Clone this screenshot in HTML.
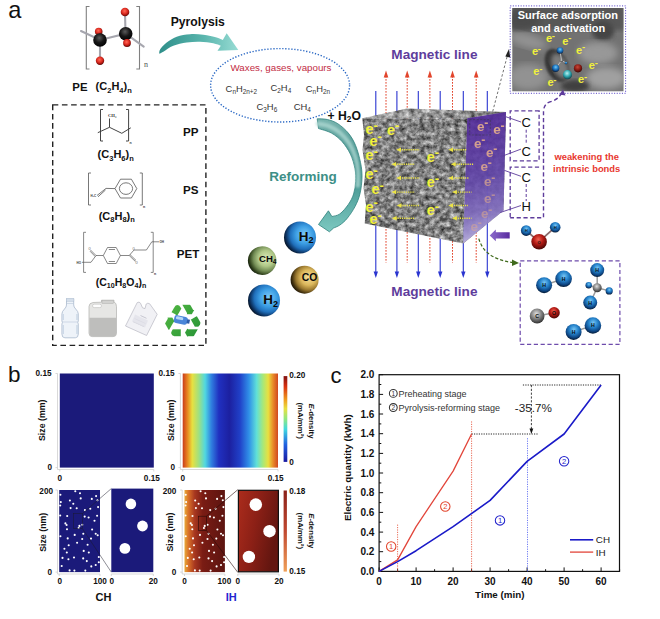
<!DOCTYPE html>
<html><head><meta charset="utf-8"><title>Figure</title>
<style>html,body{margin:0;padding:0;background:#fff}svg{display:block}text{font-family:"Liberation Sans",sans-serif}</style>
</head><body>
<svg width="660" height="619" viewBox="0 0 660 619">
<defs>
<radialGradient id="gBlue" cx="52%" cy="34%" r="68%"><stop offset="0" stop-color="#78c6f4"/><stop offset="0.4" stop-color="#2684cc"/><stop offset="0.75" stop-color="#0e4684"/><stop offset="1" stop-color="#041428"/></radialGradient>
<radialGradient id="gBlueBig" cx="64%" cy="42%" r="72%"><stop offset="0" stop-color="#80ccf8"/><stop offset="0.38" stop-color="#3c9ee4"/><stop offset="0.62" stop-color="#2070bc"/><stop offset="0.8" stop-color="#0c3260"/><stop offset="0.93" stop-color="#040e1c"/><stop offset="1" stop-color="#02060c"/></radialGradient><radialGradient id="gGreen" cx="64%" cy="42%" r="72%"><stop offset="0" stop-color="#dcecb8"/><stop offset="0.38" stop-color="#b0c888"/><stop offset="0.62" stop-color="#748e56"/><stop offset="0.8" stop-color="#34461f"/><stop offset="0.93" stop-color="#10180a"/><stop offset="1" stop-color="#080c04"/></radialGradient>
<radialGradient id="gGold" cx="64%" cy="42%" r="72%"><stop offset="0" stop-color="#f4e09c"/><stop offset="0.38" stop-color="#dcb85c"/><stop offset="0.62" stop-color="#9c7a30"/><stop offset="0.8" stop-color="#463410"/><stop offset="0.93" stop-color="#160e02"/><stop offset="1" stop-color="#0a0600"/></radialGradient>
<radialGradient id="gRed" cx="45%" cy="35%" r="70%"><stop offset="0" stop-color="#f06050"/><stop offset="0.45" stop-color="#b41a14"/><stop offset="1" stop-color="#3a0403"/></radialGradient>
<radialGradient id="gGray" cx="45%" cy="35%" r="70%"><stop offset="0" stop-color="#e0e0e0"/><stop offset="0.5" stop-color="#808080"/><stop offset="1" stop-color="#262626"/></radialGradient>
<radialGradient id="gBlk" cx="45%" cy="35%" r="70%"><stop offset="0" stop-color="#5a5a5a"/><stop offset="0.5" stop-color="#161616"/><stop offset="1" stop-color="#000"/></radialGradient>
<radialGradient id="gRed2" cx="45%" cy="35%" r="70%"><stop offset="0" stop-color="#c84838"/><stop offset="0.5" stop-color="#8c1c14"/><stop offset="1" stop-color="#300403"/></radialGradient><radialGradient id="gRedB" cx="45%" cy="38%" r="68%"><stop offset="0" stop-color="#ff6a58"/><stop offset="0.5" stop-color="#dc2a20"/><stop offset="0.85" stop-color="#7a0c08"/><stop offset="1" stop-color="#1a0202"/></radialGradient><radialGradient id="gCyan" cx="45%" cy="35%" r="70%"><stop offset="0" stop-color="#b8f0f0"/><stop offset="0.5" stop-color="#30a8b0"/><stop offset="1" stop-color="#083038"/></radialGradient>
<linearGradient id="teal1" x1="0" y1="0" x2="1" y2="0"><stop offset="0" stop-color="#2f8f8a"/><stop offset="0.55" stop-color="#58b4ac"/><stop offset="1" stop-color="#98dcd4"/></linearGradient>
<linearGradient id="teal2" x1="0" y1="0" x2="0" y2="1"><stop offset="0" stop-color="#78b4ae"/><stop offset="0.45" stop-color="#3c8c88"/><stop offset="1" stop-color="#7cc8c0"/></linearGradient>
<linearGradient id="rainbow" x1="0" y1="0" x2="1" y2="0">
<stop offset="0" stop-color="#c83c1c"/><stop offset="0.046" stop-color="#e88020"/><stop offset="0.10" stop-color="#e8e040"/><stop offset="0.168" stop-color="#a0e080"/><stop offset="0.235" stop-color="#50d8e0"/><stop offset="0.30" stop-color="#3080e0"/><stop offset="0.38" stop-color="#2030c0"/><stop offset="0.49" stop-color="#1c20a0"/><stop offset="0.60" stop-color="#2040c8"/><stop offset="0.695" stop-color="#3090e8"/><stop offset="0.776" stop-color="#60e0d8"/><stop offset="0.843" stop-color="#a8e878"/><stop offset="0.897" stop-color="#e8e040"/><stop offset="0.95" stop-color="#e88828"/><stop offset="1" stop-color="#d04820"/>
</linearGradient>
<linearGradient id="jet" x1="0" y1="0" x2="0" y2="1">
<stop offset="0" stop-color="#801010"/><stop offset="0.12" stop-color="#d83010"/><stop offset="0.28" stop-color="#f0a020"/><stop offset="0.38" stop-color="#e8e040"/><stop offset="0.5" stop-color="#90e880"/><stop offset="0.62" stop-color="#40d8e0"/><stop offset="0.8" stop-color="#2060e0"/><stop offset="1" stop-color="#1818a0"/>
</linearGradient>
<linearGradient id="redbar" x1="0" y1="0" x2="0" y2="1"><stop offset="0" stop-color="#8a2018"/><stop offset="0.5" stop-color="#c04830"/><stop offset="1" stop-color="#f0a058"/></linearGradient>
<linearGradient id="redmap" x1="0" y1="0" x2="1" y2="0"><stop offset="0" stop-color="#e8a838"/><stop offset="0.1" stop-color="#d87028"/><stop offset="0.25" stop-color="#a83820"/><stop offset="0.45" stop-color="#7a1c14"/><stop offset="1" stop-color="#5c1410"/></linearGradient>
<linearGradient id="redzoom" x1="0" y1="0" x2="1" y2="0.4"><stop offset="0" stop-color="#ac2c1c"/><stop offset="0.5" stop-color="#8c2016"/><stop offset="1" stop-color="#641610"/></linearGradient>
<linearGradient id="purp" x1="0.4" y1="0" x2="0.5" y2="1"><stop offset="0" stop-color="#52289a" stop-opacity="0.9"/><stop offset="0.5" stop-color="#6246aa" stop-opacity="0.9"/><stop offset="0.75" stop-color="#806cbe" stop-opacity="0.92"/><stop offset="0.9" stop-color="#a89cd6" stop-opacity="0.94"/><stop offset="1" stop-color="#d0c8e8" stop-opacity="0.95"/></linearGradient>
<filter id="rock" x="0" y="0" width="100%" height="100%" color-interpolation-filters="sRGB"><feTurbulence type="fractalNoise" baseFrequency="0.2 0.22" numOctaves="3" seed="5"/><feColorMatrix type="matrix" values="0.95 0 0 0 0.035  0.95 0 0 0 0.035  0.95 0 0 0 0.035  0 0 0 0 1"/><feComposite in2="SourceGraphic" operator="in"/></filter>
<filter id="rock2" x="0" y="0" width="100%" height="100%" color-interpolation-filters="sRGB"><feTurbulence type="fractalNoise" baseFrequency="0.42" numOctaves="2" seed="11"/><feColorMatrix type="matrix" values="0 0 0 0 0.12  0 0 0 0 0.12  0 0 0 0 0.12  -4 0 0 0 1.55"/><feComposite in2="SourceGraphic" operator="in"/></filter>
<filter id="blur1"><feGaussianBlur stdDeviation="1.2"/></filter>
<filter id="blur2"><feGaussianBlur stdDeviation="2"/></filter>
<filter id="blur3"><feGaussianBlur stdDeviation="3.5"/></filter>
<clipPath id="insetclip"><rect x="512.3" y="8" width="111.2" height="83.2"/></clipPath>
</defs>
<rect width="660" height="619" fill="#fff"/>

<text x="8.3" y="18.4" font-size="23.6" fill="#111">a</text>
<text x="8" y="382" font-size="22.5" fill="#111">b</text>
<text x="330.6" y="382.8" font-size="22" fill="#111">c</text>
<g stroke="#808080" stroke-width="1.1" fill="none"><path d="M89.5,6.5 H86.3 V69 H89.5"/><path d="M136.3,6.5 H139.5 V69 H136.3"/></g>
<text x="144" y="67" font-size="8" fill="#555" font-family="Liberation Serif, serif" style="font-family:'Liberation Serif',serif">n</text>
<g stroke="#a6a6ae" stroke-width="2.1" stroke-linecap="round" fill="none"><path d="M81,31 L100,40 L125.7,33.7 L143.7,46.7"/><path d="M100,40 L100,60"/><path d="M125.5,33 L125,13"/></g>
<circle cx="98.7" cy="31.5" r="3.8" fill="url(#gRedB)"/>
<circle cx="125" cy="12" r="4.3" fill="url(#gRedB)"/>
<circle cx="100" cy="60.7" r="4.2" fill="url(#gRedB)"/>
<circle cx="100" cy="40" r="6.8" fill="url(#gBlk)"/>
<circle cx="125.7" cy="33.7" r="6.8" fill="url(#gBlk)"/>
<circle cx="127" cy="43" r="3.9" fill="url(#gRedB)"/>
<text x="72.3" y="90.6" font-size="11.4" font-weight="bold" fill="#111">PE</text>
<text x="95.6" y="90.4" font-size="11" fill="#111" font-weight="bold" text-anchor="start" ><tspan>(C</tspan><tspan font-size="7.5" dy="2.2">2</tspan><tspan dy="-2.2" font-size="0.1">&#8203;</tspan><tspan>H</tspan><tspan font-size="7.5" dy="2.2">4</tspan><tspan dy="-2.2" font-size="0.1">&#8203;</tspan><tspan>)</tspan><tspan font-size="7.5" dy="2.2">n</tspan><tspan dy="-2.2" font-size="0.1">&#8203;</tspan></text>
<rect x="52.7" y="104.900" width="153.2" height="240.500" fill="none" stroke="#222" stroke-width="1.4" stroke-dasharray="5.6,3.6"/>
<text x="183" y="135.500" font-size="11.6" font-weight="bold" fill="#111">PP</text>
<text x="183" y="194" font-size="11.6" font-weight="bold" fill="#111">PS</text>
<text x="176.800" y="257.600" font-size="11.6" font-weight="bold" fill="#111">PET</text>
<text x="115.7" y="158.4" font-size="11" fill="#111" font-weight="bold" text-anchor="middle" ><tspan>(C</tspan><tspan font-size="7.5" dy="2.2">3</tspan><tspan dy="-2.2" font-size="0.1">&#8203;</tspan><tspan>H</tspan><tspan font-size="7.5" dy="2.2">6</tspan><tspan dy="-2.2" font-size="0.1">&#8203;</tspan><tspan>)</tspan><tspan font-size="7.5" dy="2.2">n</tspan><tspan dy="-2.2" font-size="0.1">&#8203;</tspan></text>
<text x="116.8" y="220" font-size="11" fill="#111" font-weight="bold" text-anchor="middle" ><tspan>(C</tspan><tspan font-size="7.5" dy="2.2">8</tspan><tspan dy="-2.2" font-size="0.1">&#8203;</tspan><tspan>H</tspan><tspan font-size="7.5" dy="2.2">8</tspan><tspan dy="-2.2" font-size="0.1">&#8203;</tspan><tspan>)</tspan><tspan font-size="7.5" dy="2.2">n</tspan><tspan dy="-2.2" font-size="0.1">&#8203;</tspan></text>
<text x="121" y="285.6" font-size="10.5" fill="#111" font-weight="bold" text-anchor="middle" ><tspan>(C</tspan><tspan font-size="7.1" dy="2.1">10</tspan><tspan dy="-2.1" font-size="0.1">&#8203;</tspan><tspan>H</tspan><tspan font-size="7.1" dy="2.1">8</tspan><tspan dy="-2.1" font-size="0.1">&#8203;</tspan><tspan>O</tspan><tspan font-size="7.1" dy="2.1">4</tspan><tspan dy="-2.1" font-size="0.1">&#8203;</tspan><tspan>)</tspan><tspan font-size="7.1" dy="2.1">n</tspan><tspan dy="-2.1" font-size="0.1">&#8203;</tspan></text>
<g stroke="#3a3a3a" stroke-width="0.95" fill="none"><path d="M103,109.500 H100.500 V141 H103"/><path d="M126,109.500 H128.600 V141 H126"/><path d="M97.800,132.700 L109.500,127.300 L121.800,133.300 L130.800,127.800"/><path d="M109.500,127.300 V118.500"/></g>
<text x="108" y="116.500" font-size="4.6" font-weight="bold" fill="#333" style="font-family:'Liberation Serif',serif">CH₃</text><text x="129.500" y="143.500" font-size="3.5" font-weight="bold" fill="#333">n</text>
<g stroke="#555" stroke-width="0.8" fill="none"><path d="M91,173 H88.500 V205 H91"/><path d="M139.800,173 H142.300 V205 H139.800"/><path d="M115,188.600 L106,188.400 L97,195.500"/><path d="M105.500,190 L98,196.800"/><path d="M115,188.600 L120.500,179.200 L131.400,179.200 L136.800,188.600 L131.400,198 L120.500,198 Z"/><ellipse cx="126" cy="188.600" rx="6.6" ry="5.800"/></g>
<text x="90.500" y="196.500" font-size="3" font-weight="bold" fill="#333">H₂C</text><text x="143" y="207.500" font-size="3.5" font-weight="bold" fill="#333">n</text>
<g stroke="#555" stroke-width="0.7" fill="none"><path d="M86,232.300 H83.600 V272.400 H86"/><path d="M150.800,232.300 H153.200 V272.400 H150.800"/><path d="M103.300,255.500 L107.500,247.500 L116.200,247.500 L120.400,255.500 L116.200,263.500 L107.500,263.500 Z"/><path d="M108.800,249.500 H115 M108.800,261.500 H115"/><path d="M103.300,255.500 H96 L90.500,250 M95.200,256.500 L90,251.200"/><path d="M96,255.500 L91,262.300 H82"/><path d="M120.400,255.500 H129.200 L135.400,261.500 M130,254.600 L136,260.400"/><path d="M129.200,255.500 L134,250 H146.400 L151.800,241.800 H159"/></g>
<text x="76.500" y="263.500" font-size="3" font-weight="bold" fill="#333">HO</text><text x="159.500" y="243" font-size="3" font-weight="bold" fill="#333">OH</text><text x="154" y="275" font-size="3.5" font-weight="bold" fill="#333">n</text><text x="88.500" y="250" font-size="2.8" fill="#333">O</text><text x="135.500" y="264" font-size="2.8" fill="#333">O</text><text x="132.500" y="249.500" font-size="2.8" fill="#333">O</text>
<g><path d="M66.500,299 h7.200 v6 q0,2 2,4 q2.600,2.500 2.600,5 v7 q-1,1.500 0,3 v10 q0,3.800 -3,3.800 h-10.400 q-3,0 -3,-3.800 v-10 q1,-1.500 0,-3 v-7 q0,-2.500 2.600,-5 q2,-2 2,-4 z" fill="#eef3f9" stroke="#a9b9cd" stroke-width="0.800"/><rect x="66.300" y="298.600" width="7.600" height="2.600" fill="#d4deea" stroke="#a9b9cd" stroke-width="0.400"/><path d="M63.200,314 v6 M77,314 v6 M63.200,325 v9 M77,325 v9" stroke="#c9d6e6" stroke-width="1.400" fill="none"/><path d="M66.500,303.500 h7.200 M62,322 h16" stroke="#b9c7d9" stroke-width="0.600"/></g>
<g><path d="M89,306.500 q0,-3.500 4,-4 l8.500,-0.300 v-2 h12.500 v2 q2.500,0.500 2.500,4.500 v26.500 q0,3.400 -3.500,3.400 h-20.500 q-3.500,0 -3.500,-3.400 z" fill="#e6e6e4" stroke="#b0b0ae" stroke-width="0.700"/><path d="M89.400,317.800 h26.800 v15.800 q0,2.800 -3,2.800 h-20.800 q-3,0 -3,-2.800 z" fill="#bebebc"/><rect x="92.500" y="304.200" width="9" height="3.400" rx="1.700" fill="#fdfdfd" stroke="#b4b4b2" stroke-width="0.500"/><rect x="102" y="300.200" width="11.500" height="3.300" fill="#d2d2d0" stroke="#a6a6a4" stroke-width="0.400"/></g>
<g><path d="M137.200,302.600 q2,-1.300 3.300,0.600 l2,4.600 l2.500,0.800 l1.200,-4.600 q1.500,-1.500 3.500,-0.200 l7.500,10.500 l-10.600,21.200 l-21.100,-9.500 z" fill="#f1f1f5" stroke="#b8b8c2" stroke-width="0.700"/><path d="M134.500,318.500 l11,5 M133,321.500 l11,5 M140.500,315.500 l6,2.800" stroke="#b4b4c2" stroke-width="0.700"/><path d="M135,314.500 l13,6 l-3,7 l-13,-6 z" fill="#e2e2ea" opacity="0.800"/></g>
<defs><linearGradient id="grn" x1="0" y1="0" x2="1" y2="1"><stop offset="0" stop-color="#5cc044"/><stop offset="1" stop-color="#1c8a34"/></linearGradient></defs>
<text x="182.500" y="340.300" font-size="51" fill="url(#grn)" stroke="#fff" stroke-width="1.800" stroke-linejoin="round" text-anchor="middle" style="font-family:'DejaVu Sans',sans-serif">&#9851;</text>
<g transform="rotate(12 181 320)"><rect x="174" y="316" width="13.500" height="8" rx="2.500" fill="#4a86d8"/><rect x="175.500" y="317" width="7.500" height="3" rx="1.500" fill="#b4d6f6"/><rect x="187" y="318" width="2.800" height="4" fill="#2c5ca8"/></g>
<text x="197.800" y="26" font-size="12.200" font-weight="bold" fill="#111" text-anchor="middle">Pyrolysis</text>
<path d="M159.2,53.7 C159.4,53.0 158.9,51.1 160.2,49.2 C161.4,47.3 163.9,44.6 166.7,42.5 C169.4,40.4 172.8,38.1 176.7,36.7 C180.6,35.3 185.6,34.5 190.0,34.2 C194.4,33.9 198.9,34.2 203.3,34.7 C207.8,35.2 213.4,36.6 216.7,37.5 C219.9,38.4 221.8,39.6 222.8,40.0 L226.700,33.300 L238.300,50 L217.500,50.800 L220.800,45.800 C219.6,45.4 216.8,44.0 213.3,43.3 C209.8,42.6 204.4,41.8 200.0,41.7 C195.6,41.6 191.1,41.8 186.7,42.5 C182.2,43.2 177.2,44.3 173.3,45.8 C169.4,47.3 165.7,50.4 163.3,51.7 C161.0,53.0 159.9,53.4 159.2,53.7 Z" fill="url(#teal1)"/>
<ellipse cx="280.100" cy="85.300" rx="69.500" ry="36.700" fill="none" stroke="#2a68c4" stroke-width="1.400" stroke-dasharray="1.300,1.700"/>
<text x="281" y="70.700" font-size="9.750" fill="#c22c44" text-anchor="middle">Waxes, gases, vapours</text>
<text x="225.6" y="91.7" font-size="9.4" fill="#333" font-weight="normal" text-anchor="start" ><tspan>C</tspan><tspan font-size="6.4" dy="1.9">n</tspan><tspan dy="-1.9" font-size="0.1">&#8203;</tspan><tspan>H</tspan><tspan font-size="6.4" dy="1.9">2n+2</tspan><tspan dy="-1.9" font-size="0.1">&#8203;</tspan></text>
<text x="270.5" y="90.7" font-size="9.4" fill="#333" font-weight="normal" text-anchor="start" ><tspan>C</tspan><tspan font-size="6.4" dy="1.9">2</tspan><tspan dy="-1.9" font-size="0.1">&#8203;</tspan><tspan>H</tspan><tspan font-size="6.4" dy="1.9">4</tspan><tspan dy="-1.9" font-size="0.1">&#8203;</tspan></text>
<text x="305.8" y="91.7" font-size="9.4" fill="#333" font-weight="normal" text-anchor="start" ><tspan>C</tspan><tspan font-size="6.4" dy="1.9">n</tspan><tspan dy="-1.9" font-size="0.1">&#8203;</tspan><tspan>H</tspan><tspan font-size="6.4" dy="1.9">2n</tspan><tspan dy="-1.9" font-size="0.1">&#8203;</tspan></text>
<text x="256.5" y="110" font-size="9.4" fill="#333" font-weight="normal" text-anchor="start" ><tspan>C</tspan><tspan font-size="6.4" dy="1.9">3</tspan><tspan dy="-1.9" font-size="0.1">&#8203;</tspan><tspan>H</tspan><tspan font-size="6.4" dy="1.9">6</tspan><tspan dy="-1.9" font-size="0.1">&#8203;</tspan></text>
<text x="293.8" y="110" font-size="9.4" fill="#333" font-weight="normal" text-anchor="start" ><tspan>CH</tspan><tspan font-size="6.4" dy="1.9">4</tspan><tspan dy="-1.9" font-size="0.1">&#8203;</tspan></text>
<text x="327.5" y="120" font-size="12.2" fill="#111" font-weight="bold" text-anchor="start" ><tspan>+ H</tspan><tspan font-size="8.3" dy="2.4">2</tspan><tspan dy="-2.4" font-size="0.1">&#8203;</tspan><tspan>O</tspan></text>
<path d="M317.2,118.8 C318.9,118.9 323.9,118.7 327.3,119.5 C330.7,120.3 334.3,121.4 337.8,123.7 C341.3,126.0 345.3,129.4 348.3,133.1 C351.3,136.8 353.7,140.8 355.7,145.7 C357.7,150.6 359.4,157.2 360.5,162.5 C361.6,167.8 362.1,171.9 362.0,177.2 C361.9,182.4 361.1,189.1 359.9,194.0 C358.7,198.9 357.1,202.6 355.0,206.6 C352.9,210.6 349.8,215.1 347.3,218.2 C344.8,221.3 342.2,223.4 339.9,225.0 C337.6,226.6 334.7,227.5 333.6,228.0 L329.4,231.8 L318.5,224.5 L328.4,210.8 L331.9,216.5 C333.2,216.1 337.2,215.9 339.9,213.9 C342.6,211.9 346.0,207.8 348.3,204.5 C350.6,201.2 352.4,197.8 353.6,194.0 C354.8,190.2 355.5,185.6 355.7,181.4 C355.9,177.2 355.9,173.4 355.0,168.8 C354.1,164.2 352.6,158.7 350.4,154.1 C348.2,149.5 345.1,145.0 342.0,141.5 C338.9,138.0 335.4,135.3 331.5,133.1 C327.6,130.9 320.7,129.3 318.5,128.5 Z" fill="url(#teal2)" stroke="#2f827c" stroke-width="0.8" stroke-linejoin="round"/>
<path d="M317.9,123.7 C319.8,124.1 325.7,124.8 329.4,126.3 C333.1,127.8 336.6,129.7 339.9,132.6 C343.2,135.5 346.8,139.5 349.4,143.6 C351.9,147.7 353.9,152.5 355.4,157.2 C356.8,162.0 357.7,167.2 358.1,171.9 C358.5,176.7 357.9,183.3 357.8,185.6 " fill="none" stroke="#b4dcd6" stroke-width="4.5" stroke-linecap="round" opacity="0.7" filter="url(#blur1)"/>
<text x="303" y="180.600" font-size="13.500" font-weight="bold" fill="#3d8f87" text-anchor="middle">Reforming</text>
<circle cx="300" cy="237.4" r="16" fill="url(#gBlueBig)"/>
<circle cx="262.2" cy="260.6" r="14.3" fill="url(#gGreen)"/>
<circle cx="304.6" cy="279.7" r="14" fill="url(#gGold)"/>
<circle cx="264" cy="300.4" r="16" fill="url(#gBlueBig)"/>
<text x="306.2" y="240.6" font-size="13.4" fill="#0a0a0a" font-weight="bold" text-anchor="middle" ><tspan>H</tspan><tspan font-size="9.1" dy="2.7">2</tspan><tspan dy="-2.7" font-size="0.1">&#8203;</tspan></text>
<text x="270.7" y="304" font-size="13.4" fill="#0a0a0a" font-weight="bold" text-anchor="middle" ><tspan>H</tspan><tspan font-size="9.1" dy="2.7">2</tspan><tspan dy="-2.7" font-size="0.1">&#8203;</tspan></text>
<text x="267.7" y="262.4" font-size="9.6" fill="#0a0a0a" font-weight="bold" text-anchor="middle" ><tspan>CH</tspan><tspan font-size="6.5" dy="1.9">4</tspan><tspan dy="-1.9" font-size="0.1">&#8203;</tspan></text>
<text x="309.600" y="281.300" font-size="10.400" font-weight="bold" fill="#0a0a0a" text-anchor="middle">CO</text>
<text x="434.400" y="59.300" font-size="13.600" font-weight="bold" fill="#5e3c9c" text-anchor="middle">Magnetic line</text>
<text x="434.400" y="295.800" font-size="13.600" font-weight="bold" fill="#5e3c9c" text-anchor="middle">Magnetic line</text>
<path d="M375.8,91 V273" stroke="#2a34d0" stroke-width="1.100"/><path d="M373.6,271.500 L375.8,278 L378.0,271.500 Z" fill="#2a34d0"/>
<path d="M396.9,91 V273" stroke="#2a34d0" stroke-width="1.100"/><path d="M394.7,271.500 L396.9,278 L399.09999999999997,271.500 Z" fill="#2a34d0"/>
<path d="M418.3,91 V273" stroke="#2a34d0" stroke-width="1.100"/><path d="M416.1,271.500 L418.3,278 L420.5,271.500 Z" fill="#2a34d0"/>
<path d="M440.2,91 V273" stroke="#2a34d0" stroke-width="1.100"/><path d="M438.0,271.500 L440.2,278 L442.4,271.500 Z" fill="#2a34d0"/>
<path d="M463.3,91 V273" stroke="#2a34d0" stroke-width="1.100"/><path d="M461.1,271.500 L463.3,278 L465.5,271.500 Z" fill="#2a34d0"/>
<path d="M487.3,91 V273" stroke="#2a34d0" stroke-width="1.100"/><path d="M485.1,271.500 L487.3,278 L489.5,271.500 Z" fill="#2a34d0"/>
<path d="M386,76 V262.500" stroke="#e2452c" stroke-width="1" stroke-dasharray="1.700,1.300"/><path d="M383.7,77.500 L386,70.400 L388.3,77.500 Z" fill="#e2452c"/>
<path d="M407.2,76 V262.500" stroke="#e2452c" stroke-width="1" stroke-dasharray="1.700,1.300"/><path d="M404.9,77.500 L407.2,70.400 L409.5,77.500 Z" fill="#e2452c"/>
<path d="M429.9,76 V262.500" stroke="#e2452c" stroke-width="1" stroke-dasharray="1.700,1.300"/><path d="M427.59999999999997,77.500 L429.9,70.400 L432.2,77.500 Z" fill="#e2452c"/>
<path d="M452.5,76 V262.500" stroke="#e2452c" stroke-width="1" stroke-dasharray="1.700,1.300"/><path d="M450.2,77.500 L452.5,70.400 L454.8,77.500 Z" fill="#e2452c"/>
<path d="M476.2,76 V262.500" stroke="#e2452c" stroke-width="1" stroke-dasharray="1.700,1.300"/><path d="M473.9,77.500 L476.2,70.400 L478.5,77.500 Z" fill="#e2452c"/>
<polygon points="362.3,118.2 467.3,118.2 463.2,243.5 364.7,223.6 366,205 363.5,188 365.5,170 362.5,150 364,135" fill="#808080" filter="url(#rock)"/>
<polygon points="362.3,118.2 467.3,118.2 463.2,243.5 364.7,223.6 366,205 363.5,188 365.5,170 362.5,150 364,135" fill="#000" filter="url(#rock2)" opacity="0.3"/>
<polygon points="362.300,118.200 407.100,108.500 506,112.100 467.300,118.200" fill="#808080" filter="url(#rock)"/>
<defs><linearGradient id="topg" x1="0" y1="0" x2="1" y2="0"><stop offset="0" stop-color="#fff" stop-opacity="0.3"/><stop offset="0.5" stop-color="#fff" stop-opacity="0.1"/><stop offset="1" stop-color="#000" stop-opacity="0.22"/></linearGradient></defs>
<polygon points="362.300,118.200 407.100,108.500 506,112.100 467.300,118.200" fill="url(#topg)"/>
<polygon points="467.300,118.200 506,112.100 503.500,210.500 463.200,243.500" fill="#808080" filter="url(#rock)"/>
<polygon points="467.300,118.200 506,112.100 503.500,210.500 463.200,243.500" fill="#000" filter="url(#rock2)" opacity="0.25"/>
<polygon points="467.300,118.200 506,112.100 503.500,210.500 463.200,243.500" fill="url(#purp)"/>
<path d="M487.300,114 V224" stroke="#4a3ac0" stroke-width="1" opacity="0.180"/>
<text x="365.5" y="134" font-size="14.5" font-weight="bold" fill="#f2f23a" opacity="1">e<tspan font-size="13.1" dy="-4.3" dx="-0.2">-</tspan></text>
<text x="387" y="134.5" font-size="14.5" font-weight="bold" fill="#f2f23a" opacity="1">e<tspan font-size="13.1" dy="-4.3" dx="-0.2">-</tspan></text>
<text x="369.5" y="145.6" font-size="14.5" font-weight="bold" fill="#f2f23a" opacity="1">e<tspan font-size="13.1" dy="-4.3" dx="-0.2">-</tspan></text>
<text x="365.5" y="159.8" font-size="14.5" font-weight="bold" fill="#f2f23a" opacity="1">e<tspan font-size="13.1" dy="-4.3" dx="-0.2">-</tspan></text>
<text x="365.5" y="179.3" font-size="14.5" font-weight="bold" fill="#f2f23a" opacity="1">e<tspan font-size="13.1" dy="-4.3" dx="-0.2">-</tspan></text>
<text x="371.5" y="194" font-size="14.5" font-weight="bold" fill="#f2f23a" opacity="1">e<tspan font-size="13.1" dy="-4.3" dx="-0.2">-</tspan></text>
<text x="365.5" y="211.5" font-size="14.5" font-weight="bold" fill="#f2f23a" opacity="1">e<tspan font-size="13.1" dy="-4.3" dx="-0.2">-</tspan></text>
<text x="369.5" y="224.4" font-size="14.5" font-weight="bold" fill="#f2f23a" opacity="1">e<tspan font-size="13.1" dy="-4.3" dx="-0.2">-</tspan></text>
<text x="426.8" y="161.6" font-size="14.5" font-weight="bold" fill="#f2f23a" opacity="1">e<tspan font-size="13.1" dy="-4.3" dx="-0.2">-</tspan></text>
<text x="426.8" y="187" font-size="14.5" font-weight="bold" fill="#f2f23a" opacity="1">e<tspan font-size="13.1" dy="-4.3" dx="-0.2">-</tspan></text>
<text x="426.8" y="215.4" font-size="14.5" font-weight="bold" fill="#f2f23a" opacity="1">e<tspan font-size="13.1" dy="-4.3" dx="-0.2">-</tspan></text>
<path d="M399.7,149.7 H419.7" stroke="#ece444" stroke-width="1.450" stroke-dasharray="1.200,1"/><path d="M401.0,147.5 L396.2,149.7 L401.0,151.89999999999998 Z" fill="#ece444"/>
<path d="M451.8,149.7 H467" stroke="#ece444" stroke-width="1.450" stroke-dasharray="1.200,1"/><path d="M453.1,147.5 L448.3,149.7 L453.1,151.89999999999998 Z" fill="#ece444"/>
<path d="M394.9,164.2 H414.9" stroke="#ece444" stroke-width="1.450" stroke-dasharray="1.200,1"/><path d="M396.2,162.0 L391.4,164.2 L396.2,166.39999999999998 Z" fill="#ece444"/>
<path d="M454.3,164.2 H474" stroke="#ece444" stroke-width="1.450" stroke-dasharray="1.200,1"/><path d="M455.6,162.0 L450.8,164.2 L455.6,166.39999999999998 Z" fill="#ece444"/>
<path d="M399.7,178 H419.7" stroke="#ece444" stroke-width="1.450" stroke-dasharray="1.200,1"/><path d="M401.0,175.8 L396.2,178 L401.0,180.2 Z" fill="#ece444"/>
<path d="M451.8,178 H469" stroke="#ece444" stroke-width="1.450" stroke-dasharray="1.200,1"/><path d="M453.1,175.8 L448.3,178 L453.1,180.2 Z" fill="#ece444"/>
<path d="M394.9,192.1 H414.9" stroke="#ece444" stroke-width="1.450" stroke-dasharray="1.200,1"/><path d="M396.2,189.9 L391.4,192.1 L396.2,194.29999999999998 Z" fill="#ece444"/>
<path d="M455.5,192.1 H471.5" stroke="#ece444" stroke-width="1.450" stroke-dasharray="1.200,1"/><path d="M456.8,189.9 L452,192.1 L456.8,194.29999999999998 Z" fill="#ece444"/>
<path d="M400.2,205.5 H420.2" stroke="#ece444" stroke-width="1.450" stroke-dasharray="1.200,1"/><path d="M401.5,203.3 L396.7,205.5 L401.5,207.7 Z" fill="#ece444"/>
<path d="M451.8,205.5 H468" stroke="#ece444" stroke-width="1.450" stroke-dasharray="1.200,1"/><path d="M453.1,203.3 L448.3,205.5 L453.1,207.7 Z" fill="#ece444"/>
<path d="M395.3,218.3 H415.3" stroke="#ece444" stroke-width="1.450" stroke-dasharray="1.200,1"/><path d="M396.6,216.10000000000002 L391.8,218.3 L396.6,220.5 Z" fill="#ece444"/>
<path d="M455.5,218.3 H471.5" stroke="#ece444" stroke-width="1.450" stroke-dasharray="1.200,1"/><path d="M456.8,216.10000000000002 L452,218.3 L456.8,220.5 Z" fill="#ece444"/>
<text x="477" y="131.4" font-size="13.5" font-weight="bold" fill="#e0aa8c" opacity="0.95">e<tspan font-size="12.2" dy="-4.0" dx="-0.2">-</tspan></text>
<text x="493.2" y="134" font-size="13.5" font-weight="bold" fill="#e0aa8c" opacity="0.95">e<tspan font-size="12.2" dy="-4.0" dx="-0.2">-</tspan></text>
<text x="474" y="148.2" font-size="13.5" font-weight="bold" fill="#e0aa8c" opacity="0.9">e<tspan font-size="12.2" dy="-4.0" dx="-0.2">-</tspan></text>
<text x="486" y="157.2" font-size="13.5" font-weight="bold" fill="#e0aa8c" opacity="0.9">e<tspan font-size="12.2" dy="-4.0" dx="-0.2">-</tspan></text>
<text x="480.5" y="171.4" font-size="13.5" font-weight="bold" fill="#e0aa8c" opacity="0.85">e<tspan font-size="12.2" dy="-4.0" dx="-0.2">-</tspan></text>
<text x="484" y="185.8" font-size="13.5" font-weight="bold" fill="#e0aa8c" opacity="0.7">e<tspan font-size="12.2" dy="-4.0" dx="-0.2">-</tspan></text>
<text x="484" y="203.3" font-size="13.5" font-weight="bold" fill="#e0aa8c" opacity="0.6">e<tspan font-size="12.2" dy="-4.0" dx="-0.2">-</tspan></text>
<text x="481" y="218" font-size="13.5" font-weight="bold" fill="#e0aa8c" opacity="0.55">e<tspan font-size="12.2" dy="-4.0" dx="-0.2">-</tspan></text>
<text x="470.5" y="230.8" font-size="13.5" font-weight="bold" fill="#e0aa8c" opacity="0.5">e<tspan font-size="12.2" dy="-4.0" dx="-0.2">-</tspan></text>
<rect x="469.700" y="119.600" width="20.600" height="15.400" fill="none" stroke="#3a3a4a" stroke-width="0.600" stroke-dasharray="2,1.500"/>
<path d="M492.700,111.500 L507.800,54" stroke="#333" stroke-width="0.700" stroke-dasharray="2.500,2"/><path d="M505.300,56.500 L509,49 L510.300,57.500 Z" fill="#222"/>
<rect x="510.200" y="5.900" width="115.400" height="87.400" fill="none" stroke="#5a48c8" stroke-width="1" stroke-dasharray="1.100,1.500"/>
<g clip-path="url(#insetclip)"><rect x="512" y="8" width="112" height="84" fill="#727272"/>
<ellipse cx="528" cy="77" rx="20" ry="13" fill="#929292" filter="url(#blur3)"/><ellipse cx="603" cy="31" rx="11" ry="10" fill="#444" filter="url(#blur2)"/><ellipse cx="606" cy="78" rx="20" ry="11" fill="#a0a0a0" filter="url(#blur3)"/><ellipse cx="520" cy="20" rx="20" ry="10" fill="#505050" filter="url(#blur3)"/><ellipse cx="598" cy="53" rx="20" ry="11" fill="#989898" filter="url(#blur3)"/><ellipse cx="528" cy="41" rx="19" ry="7" fill="#929292" filter="url(#blur3)" transform="rotate(15 528 41)"/><ellipse cx="575" cy="86" rx="14" ry="6" fill="#404040" filter="url(#blur2)"/><ellipse cx="557" cy="65.500" rx="11" ry="17.500" fill="#383838" filter="url(#blur1)" transform="rotate(-25 557 65.500)"/><ellipse cx="560" cy="66" rx="7.500" ry="13.500" fill="#7c7c7c" filter="url(#blur2)" transform="rotate(-25 560 66)"/><rect x="512" y="6" width="112" height="24" fill="#484848" opacity="0.650" filter="url(#blur2)"/></g>
<text x="567.900" y="19.100" font-size="11" font-weight="bold" fill="#fff" text-anchor="middle">Surface adsorption</text><text x="568.200" y="31.800" font-size="11" font-weight="bold" fill="#fff" text-anchor="middle">and activation</text>
<text x="545.9" y="42.4" font-size="11" font-weight="bold" fill="#f0f03c">e<tspan font-size="9.5" dy="-3.4" dx="-0.2">-</tspan></text>
<text x="562.2" y="44.6" font-size="11" font-weight="bold" fill="#f0f03c">e<tspan font-size="9.5" dy="-3.4" dx="-0.2">-</tspan></text>
<text x="531.9" y="55.2" font-size="11" font-weight="bold" fill="#f0f03c">e<tspan font-size="9.5" dy="-3.4" dx="-0.2">-</tspan></text>
<text x="576.0" y="53.7" font-size="11" font-weight="bold" fill="#f0f03c">e<tspan font-size="9.5" dy="-3.4" dx="-0.2">-</tspan></text>
<text x="588.7" y="69.0" font-size="11" font-weight="bold" fill="#f0f03c">e<tspan font-size="9.5" dy="-3.4" dx="-0.2">-</tspan></text>
<text x="533.2" y="75.3" font-size="11" font-weight="bold" fill="#f0f03c">e<tspan font-size="9.5" dy="-3.4" dx="-0.2">-</tspan></text>
<text x="578.1" y="83.4" font-size="11" font-weight="bold" fill="#f0f03c">e<tspan font-size="9.5" dy="-3.4" dx="-0.2">-</tspan></text>
<text x="547.4" y="85.9" font-size="11" font-weight="bold" fill="#f0f03c">e<tspan font-size="9.5" dy="-3.4" dx="-0.2">-</tspan></text>
<g stroke="#c8c8c8" stroke-width="0.9"><path d="M561.500,60.500 L560,50.500 M561.500,60.500 L555.600,68.300 M561.500,60.500 L566,63"/></g>
<circle cx="560" cy="50.5" r="3.3" fill="url(#gBlue)"/>
<circle cx="555.6" cy="68.3" r="3.7" fill="url(#gBlue)"/>
<circle cx="578" cy="68.3" r="4.1" fill="url(#gRed2)"/>
<circle cx="567.5" cy="74.7" r="4.6" fill="url(#gCyan)"/>
<circle cx="561.5" cy="60.5" r="1.6" fill="url(#gGray)"/>
<circle cx="566" cy="63" r="1.3" fill="url(#gBlue)"/>
<path d="M562,93 L558.300,97.600 Q555,100.500 550,101.800 Q544,104 543.500,111 V217.700 H510.200" fill="none" stroke="#5e3c9c" stroke-width="1.400" stroke-dasharray="4.200,2.600"/><path d="M559.300,94.500 L563,89.500 L565.500,95.500 Z" fill="#5e3c9c"/>
<path d="M539.100,110.900 H510.200 V160.800 H539.100 Z" fill="none" stroke="#5e3c9c" stroke-width="1.300" stroke-dasharray="4.200,2.600"/>
<path d="M539.100,167.200 H510.200 V217.700" fill="none" stroke="#5e3c9c" stroke-width="1.300" stroke-dasharray="4.200,2.600"/>
<g font-size="13" fill="#111" text-anchor="middle"><text x="526.200" y="127.200">C</text><text x="526.200" y="155.600">C</text><text x="526.200" y="181.500">C</text><text x="526.200" y="211.200">H</text></g>
<g stroke="#5e3c9c" stroke-width="1" stroke-dasharray="3,2"><path d="M526.200,129.700 V144.500"/><path d="M526.200,184 V201"/></g>
<g stroke="#5e3c9c" stroke-width="0.900"><path d="M506,116.800 L521,122"/><path d="M501.600,156.400 L521,149.100"/><path d="M504.200,170.300 L521,176.300"/><path d="M500.300,212.500 L521,205.500"/></g>
<text x="586.700" y="160.300" font-size="9.400" font-weight="bold" fill="#e8382f" text-anchor="middle">weakening the</text><text x="586.700" y="172.400" font-size="9.400" font-weight="bold" fill="#e8382f" text-anchor="middle">intrinsic bonds</text>
<defs><linearGradient id="parr" x1="0" y1="0" x2="1" y2="0"><stop offset="0" stop-color="#8c6ccc"/><stop offset="1" stop-color="#5a2ca0"/></linearGradient></defs><path d="M489.700,235.600 L495.800,229.500 V232.200 H509.700 V238.600 H495.800 V241.200 Z" fill="url(#parr)"/>
<g stroke="#8a6a6a" stroke-width="1.800"><path d="M539.100,241.700 L526.200,230.600"/><path d="M539.100,241.700 L555.200,227.200"/></g>
<circle cx="526.2" cy="230.6" r="5.3" fill="url(#gBlue)"/>
<circle cx="555.2" cy="227.2" r="5.3" fill="url(#gBlue)"/>
<circle cx="539.1" cy="241.7" r="7.8" fill="url(#gRed)"/>
<g font-size="4.200" font-weight="bold" fill="#111" text-anchor="middle"><text x="526.200" y="232.100">H</text><text x="555.200" y="228.700">H</text><text x="539.100" y="243.500">O</text></g>
<path d="M478.800,238.600 Q482,250 492,256 Q501,261 513,262.600" fill="none" stroke="#3f6a1c" stroke-width="1.200" stroke-dasharray="3.200,2"/><path d="M512,259.600 L519,263 L512,266 Z" fill="#3f6a1c"/>
<rect x="520.200" y="260.800" width="99.700" height="83.600" fill="none" stroke="#6e4cac" stroke-width="1.200" stroke-dasharray="4.200,2.600"/>
<g stroke="#9a9a9a" stroke-width="1.500"><path d="M597.200,287.700 V271"/><path d="M597.200,287.700 L588.700,285.200"/><path d="M597.200,287.700 L609.200,290.900"/><path d="M597.200,287.700 L590.200,302.600"/><path d="M537.100,316 L554.100,312.800"/><path d="M544.100,285.200 L563.600,278.800"/><path d="M573.600,331.900 L592.900,325.500"/></g>
<circle cx="544.1" cy="285.2" r="8" fill="url(#gBlue)"/>
<text x="544.1" y="287.09999999999997" font-size="5.200" font-weight="bold" fill="#0a0a0a" text-anchor="middle">H</text>
<circle cx="563.6" cy="278.8" r="8.3" fill="url(#gBlue)"/>
<text x="563.6" y="280.7" font-size="5.200" font-weight="bold" fill="#0a0a0a" text-anchor="middle">H</text>
<circle cx="597.2" cy="270.1" r="7" fill="url(#gBlue)"/>
<text x="597.2" y="272.0" font-size="5.200" font-weight="bold" fill="#0a0a0a" text-anchor="middle">H</text>
<circle cx="588.7" cy="285.2" r="3.2" fill="url(#gBlue)"/>
<circle cx="609.2" cy="290.9" r="3.6" fill="url(#gBlue)"/>
<circle cx="597.2" cy="287.7" r="4.5" fill="url(#gGray)"/>
<circle cx="590.2" cy="302.6" r="7" fill="url(#gBlue)"/>
<text x="590.2" y="304.5" font-size="5.200" font-weight="bold" fill="#0a0a0a" text-anchor="middle">H</text>
<circle cx="537.1" cy="316" r="7.4" fill="url(#gGray)"/>
<text x="537.1" y="317.9" font-size="5.200" font-weight="bold" fill="#0a0a0a" text-anchor="middle">C</text>
<circle cx="554.1" cy="312.8" r="5.7" fill="url(#gRed)"/>
<text x="554.1" y="314.7" font-size="5.200" font-weight="bold" fill="#0a0a0a" text-anchor="middle">O</text>
<circle cx="573.6" cy="331.9" r="8" fill="url(#gBlue)"/>
<text x="573.6" y="333.79999999999995" font-size="5.200" font-weight="bold" fill="#0a0a0a" text-anchor="middle">H</text>
<circle cx="592.9" cy="325.5" r="8.3" fill="url(#gBlue)"/>
<text x="592.9" y="327.4" font-size="5.200" font-weight="bold" fill="#0a0a0a" text-anchor="middle">H</text>
<rect x="59.800" y="373.500" width="94" height="94.100" fill="#1b1a7a"/>
<rect x="182.700" y="373.500" width="95.300" height="94.100" fill="url(#rainbow)"/>
<rect x="283.600" y="376.100" width="3.700" height="85.800" fill="url(#jet)"/>
<g stroke="#c8c8c8" stroke-width="0.700" fill="none"><path d="M55.500,373.500 H57.500 V469.500 H153.800 V471.500 M55.500,467.600 H57.500 M59.800,469.500 V471.500"/><path d="M178.400,373.500 H180.400 V469.500 H278 V471.500 M178.400,467.600 H180.400 M182.700,469.500 V471.500"/><path d="M55.500,490 H57.500 V574 H100 V576 M55.500,572.100 H57.500 M59.200,574 V576"/><path d="M180.200,490 H182.200 V574 H224.900 V576 M180.200,572.100 H182.200 M184.500,574 V576"/><path d="M111.300,574 H153.300 M111.300,574 V576 M153.300,574 V576 M237.800,574 H279 M237.800,574 V576 M279,574 V576"/></g>
<g font-size="8.2" font-weight="bold" fill="#111"><text x="51.500" y="376.200" text-anchor="end">0.15</text><text x="52" y="470.300" text-anchor="end">0</text><text x="59.800" y="480.500" text-anchor="middle">0</text><text x="151.800" y="480.500" text-anchor="middle">0.15</text>
<text x="174.500" y="376.200" text-anchor="end">0.15</text><text x="175" y="470.300" text-anchor="end">0</text><text x="182.700" y="480.500" text-anchor="middle">0</text><text x="275.700" y="480.500" text-anchor="middle">0.15</text>
<text x="289.300" y="377.800">0.20</text><text x="289.300" y="465.300">0</text><text x="289.300" y="493.500">0.18</text><text x="289.300" y="574.200">0.15</text>
<text x="53" y="493.500" text-anchor="end">200</text><text x="52" y="575" text-anchor="end">0</text><text x="176.300" y="493.500" text-anchor="end">200</text><text x="176.300" y="575" text-anchor="end">0</text>
<text x="59.800" y="583.700" text-anchor="middle">0</text><text x="100" y="583.700" text-anchor="middle">100</text><text x="111.800" y="583.700" text-anchor="middle">0</text><text x="153.300" y="583.700" text-anchor="middle">20</text>
<text x="184.500" y="583.700" text-anchor="middle">0</text><text x="224.400" y="583.700" text-anchor="middle">100</text><text x="237.800" y="583.700" text-anchor="middle">0</text><text x="279" y="583.700" text-anchor="middle">20</text></g>
<g font-size="8.800" font-weight="bold" fill="#111"><text transform="translate(45.200,420.300) rotate(-90)" text-anchor="middle">Size (mm)</text><text transform="translate(173.500,420.300) rotate(-90)" text-anchor="middle">Size (mm)</text>
<text transform="translate(45.700,532.300) rotate(-90)" text-anchor="middle">Size (nm)</text><text transform="translate(173,532) rotate(-90)" text-anchor="middle">Size (nm)</text></g>
<g font-size="7.800" font-weight="bold" fill="#111"><text transform="translate(309.200,421) rotate(90)" text-anchor="middle"><tspan font-style="italic">E</tspan>-density</text><text transform="translate(297.600,420.700) rotate(90)" text-anchor="middle">(mA/mm²)</text>
<text transform="translate(309.200,530.800) rotate(90)" text-anchor="middle"><tspan font-style="italic">E</tspan>-density</text><text transform="translate(297.600,530.800) rotate(90)" text-anchor="middle">(mA/mm²)</text></g>
<rect x="59.200" y="490" width="40.800" height="82.100" fill="#1b1a7a"/><rect x="111.300" y="488.600" width="42" height="83.500" fill="#1b1a7a"/>
<rect x="184.500" y="490" width="40.400" height="82.100" fill="url(#redmap)"/><rect x="238.400" y="490.300" width="40" height="81.500" fill="url(#redzoom)" stroke="#111" stroke-width="1.200"/>
<rect x="283.600" y="490.500" width="3.300" height="81.100" fill="url(#redbar)"/>
<g fill="#fff"><circle cx="60.4" cy="494.8" r="1.05"/><circle cx="75.3" cy="491.2" r="1.05"/><circle cx="80.0" cy="493.3" r="1.05"/><circle cx="96.1" cy="496.1" r="1.05"/><circle cx="60.8" cy="502.1" r="1.05"/><circle cx="69.9" cy="500.5" r="1.05"/><circle cx="73.3" cy="503.8" r="1.05"/><circle cx="80.7" cy="498.4" r="1.05"/><circle cx="91.8" cy="498.9" r="1.05"/><circle cx="97.5" cy="500.3" r="1.05"/><circle cx="60.2" cy="505.5" r="1.05"/><circle cx="70.6" cy="508.1" r="1.05"/><circle cx="76.7" cy="508.3" r="1.05"/><circle cx="84.9" cy="510.1" r="1.05"/><circle cx="90.3" cy="508.8" r="1.05"/><circle cx="98.1" cy="507.1" r="1.05"/><circle cx="60.2" cy="515.5" r="1.05"/><circle cx="67.2" cy="516.0" r="1.05"/><circle cx="84.7" cy="516.6" r="1.05"/><circle cx="88.6" cy="517.5" r="1.05"/><circle cx="97.1" cy="515.8" r="1.05"/><circle cx="65.4" cy="523.4" r="1.05"/><circle cx="66.6" cy="525.0" r="1.05"/><circle cx="79.4" cy="525.9" r="1.05"/><circle cx="82.3" cy="524.8" r="1.05"/><circle cx="94.5" cy="520.8" r="1.05"/><circle cx="67.0" cy="529.2" r="1.05"/><circle cx="78.6" cy="528.0" r="1.05"/><circle cx="83.3" cy="533.8" r="1.05"/><circle cx="92.1" cy="529.5" r="1.05"/><circle cx="95.7" cy="533.8" r="1.05"/><circle cx="60.4" cy="536.2" r="1.05"/><circle cx="67.7" cy="538.4" r="1.05"/><circle cx="74.7" cy="534.9" r="1.05"/><circle cx="82.2" cy="539.0" r="1.05"/><circle cx="91.0" cy="538.6" r="1.05"/><circle cx="97.7" cy="535.3" r="1.05"/><circle cx="64.4" cy="548.7" r="1.05"/><circle cx="68.7" cy="545.2" r="1.05"/><circle cx="77.1" cy="542.8" r="1.05"/><circle cx="87.6" cy="544.8" r="1.05"/><circle cx="66.8" cy="552.5" r="1.05"/><circle cx="83.7" cy="550.9" r="1.05"/><circle cx="88.8" cy="552.5" r="1.05"/><circle cx="98.8" cy="557.0" r="1.05"/><circle cx="62.5" cy="557.9" r="1.05"/><circle cx="68.4" cy="559.2" r="1.05"/><circle cx="74.0" cy="557.5" r="1.05"/><circle cx="83.2" cy="558.4" r="1.05"/><circle cx="86.8" cy="561.1" r="1.05"/><circle cx="98.8" cy="562.3" r="1.05"/><circle cx="61.7" cy="566.0" r="1.05"/><circle cx="69.6" cy="570.4" r="1.05"/><circle cx="74.4" cy="570.6" r="1.05"/><circle cx="85.3" cy="570.6" r="1.05"/><circle cx="91.3" cy="566.4" r="1.05"/><circle cx="95.7" cy="565.0" r="1.05"/></g>
<g fill="#fff"><circle cx="185.7" cy="494.8" r="1.05"/><circle cx="200.6" cy="491.2" r="1.05"/><circle cx="205.3" cy="493.3" r="1.05"/><circle cx="221.4" cy="496.1" r="1.05"/><circle cx="186.1" cy="502.1" r="1.05"/><circle cx="195.2" cy="500.5" r="1.05"/><circle cx="198.6" cy="503.8" r="1.05"/><circle cx="206.0" cy="498.4" r="1.05"/><circle cx="217.1" cy="498.9" r="1.05"/><circle cx="222.8" cy="500.3" r="1.05"/><circle cx="185.5" cy="505.5" r="1.05"/><circle cx="195.9" cy="508.1" r="1.05"/><circle cx="202.0" cy="508.3" r="1.05"/><circle cx="210.2" cy="510.1" r="1.05"/><circle cx="215.6" cy="508.8" r="1.05"/><circle cx="223.4" cy="507.1" r="1.05"/><circle cx="185.5" cy="515.5" r="1.05"/><circle cx="192.5" cy="516.0" r="1.05"/><circle cx="210.0" cy="516.6" r="1.05"/><circle cx="213.9" cy="517.5" r="1.05"/><circle cx="222.4" cy="515.8" r="1.05"/><circle cx="190.7" cy="523.4" r="1.05"/><circle cx="191.9" cy="525.0" r="1.05"/><circle cx="204.7" cy="525.9" r="1.05"/><circle cx="207.6" cy="524.8" r="1.05"/><circle cx="219.8" cy="520.8" r="1.05"/><circle cx="192.3" cy="529.2" r="1.05"/><circle cx="203.9" cy="528.0" r="1.05"/><circle cx="208.6" cy="533.8" r="1.05"/><circle cx="217.4" cy="529.5" r="1.05"/><circle cx="221.0" cy="533.8" r="1.05"/><circle cx="185.7" cy="536.2" r="1.05"/><circle cx="193.0" cy="538.4" r="1.05"/><circle cx="200.0" cy="534.9" r="1.05"/><circle cx="207.5" cy="539.0" r="1.05"/><circle cx="216.3" cy="538.6" r="1.05"/><circle cx="223.0" cy="535.3" r="1.05"/><circle cx="189.7" cy="548.7" r="1.05"/><circle cx="194.0" cy="545.2" r="1.05"/><circle cx="202.4" cy="542.8" r="1.05"/><circle cx="212.9" cy="544.8" r="1.05"/><circle cx="192.1" cy="552.5" r="1.05"/><circle cx="209.0" cy="550.9" r="1.05"/><circle cx="214.1" cy="552.5" r="1.05"/><circle cx="224.1" cy="557.0" r="1.05"/><circle cx="187.8" cy="557.9" r="1.05"/><circle cx="193.7" cy="559.2" r="1.05"/><circle cx="199.3" cy="557.5" r="1.05"/><circle cx="208.5" cy="558.4" r="1.05"/><circle cx="212.1" cy="561.1" r="1.05"/><circle cx="224.1" cy="562.3" r="1.05"/><circle cx="187.0" cy="566.0" r="1.05"/><circle cx="194.9" cy="570.4" r="1.05"/><circle cx="199.7" cy="570.6" r="1.05"/><circle cx="210.6" cy="570.6" r="1.05"/><circle cx="216.6" cy="566.4" r="1.05"/><circle cx="221.0" cy="565.0" r="1.05"/></g>
<g fill="#fff"><circle cx="130.900" cy="503.900" r="5.300"/><circle cx="142.500" cy="526" r="5.400"/><circle cx="124.900" cy="548.400" r="5.400"/></g>
<g fill="#fff"><circle cx="255.800" cy="504.600" r="6.300"/><circle cx="269.500" cy="531.200" r="6.200"/><circle cx="248.900" cy="556.900" r="6.200"/></g>
<g stroke="#1a1a2a" stroke-width="0.550" fill="none" opacity="0.900"><rect x="73.400" y="513.600" width="9" height="15"/><path d="M82.400,513.600 L111.300,488.600"/><path d="M82.400,528.600 L111.300,572.100"/></g>
<g stroke="#2a0a08" stroke-width="0.600" fill="none"><rect x="198.600" y="516.200" width="7.800" height="14.200"/><path d="M206.400,516.200 L237.800,489.700"/><path d="M206.400,530.400 L237.800,572.400"/></g>
<text x="103.500" y="601.200" font-size="11" font-weight="bold" fill="#111" text-anchor="middle">CH</text><text x="231.200" y="601.200" font-size="11" font-weight="bold" fill="#2424d0" text-anchor="middle">IH</text>
<rect x="379.1" y="374.7" width="240.4" height="196.7" fill="none" stroke="#111" stroke-width="1.200"/>
<text x="374.300" y="574.9" font-size="10" font-weight="bold" fill="#111" text-anchor="end">0.0</text>
<text x="374.300" y="555.2" font-size="10" font-weight="bold" fill="#111" text-anchor="end">0.2</text>
<text x="374.300" y="535.6" font-size="10" font-weight="bold" fill="#111" text-anchor="end">0.4</text>
<text x="374.300" y="515.9" font-size="10" font-weight="bold" fill="#111" text-anchor="end">0.6</text>
<text x="374.300" y="496.2" font-size="10" font-weight="bold" fill="#111" text-anchor="end">0.8</text>
<text x="374.300" y="476.5" font-size="10" font-weight="bold" fill="#111" text-anchor="end">1.0</text>
<text x="374.300" y="456.9" font-size="10" font-weight="bold" fill="#111" text-anchor="end">1.2</text>
<text x="374.300" y="437.2" font-size="10" font-weight="bold" fill="#111" text-anchor="end">1.4</text>
<text x="374.300" y="417.5" font-size="10" font-weight="bold" fill="#111" text-anchor="end">1.6</text>
<text x="374.300" y="397.9" font-size="10" font-weight="bold" fill="#111" text-anchor="end">1.8</text>
<text x="374.300" y="378.2" font-size="10" font-weight="bold" fill="#111" text-anchor="end">2.0</text>
<text x="379.1" y="584.800" font-size="10" font-weight="bold" fill="#111" text-anchor="middle">0</text>
<text x="416.1" y="584.800" font-size="10" font-weight="bold" fill="#111" text-anchor="middle">10</text>
<text x="453.1" y="584.800" font-size="10" font-weight="bold" fill="#111" text-anchor="middle">20</text>
<text x="490.1" y="584.800" font-size="10" font-weight="bold" fill="#111" text-anchor="middle">30</text>
<text x="527.1" y="584.800" font-size="10" font-weight="bold" fill="#111" text-anchor="middle">40</text>
<text x="564.1" y="584.800" font-size="10" font-weight="bold" fill="#111" text-anchor="middle">50</text>
<text x="601.1" y="584.800" font-size="10" font-weight="bold" fill="#111" text-anchor="middle">60</text>
<path d="M379.1,571.4 h4 M379.1,551.7 h4 M379.1,532.1 h4 M379.1,512.4 h4 M379.1,492.7 h4 M379.1,473.0 h4 M379.1,453.4 h4 M379.1,433.7 h4 M379.1,414.0 h4 M379.1,394.4 h4 M379.1,374.7 h4 M379.1,561.6 h2.2 M379.1,541.9 h2.2 M379.1,522.2 h2.2 M379.1,502.6 h2.2 M379.1,482.9 h2.2 M379.1,463.2 h2.2 M379.1,443.5 h2.2 M379.1,423.9 h2.2 M379.1,404.2 h2.2 M379.1,384.5 h2.2 M379.1,571.4 v-4 M416.1,571.4 v-4 M453.1,571.4 v-4 M490.1,571.4 v-4 M527.1,571.4 v-4 M564.1,571.4 v-4 M601.1,571.4 v-4 M397.6,571.4 v-2.2 M434.6,571.4 v-2.2 M471.6,571.4 v-2.2 M508.6,571.4 v-2.2 M545.6,571.4 v-2.2 M582.6,571.4 v-2.2 M619.6,571.4 v-2.2 " stroke="#111" stroke-width="1" fill="none"/>
<text transform="translate(351.300,467.600) rotate(-90)" font-size="9.900" font-weight="bold" fill="#111" text-anchor="middle">Electric quantity (kWh)</text>
<text x="499.800" y="598" font-size="9.800" font-weight="bold" fill="#111" text-anchor="middle">Time (min)</text>
<path d="M397.6,571.4 V524.300" stroke="#e2452c" stroke-width="0.800" stroke-dasharray="1.200,1.200"/>
<path d="M471.6,571.4 V421" stroke="#e2452c" stroke-width="0.800" stroke-dasharray="1.200,1.200"/>
<path d="M527.5,571.4 V437.300" stroke="#4a5af0" stroke-width="0.800" stroke-dasharray="1.200,1.200"/>
<path d="M471.6,434 H538.300" stroke="#111" stroke-width="0.900" stroke-dasharray="1.200,1.200"/>
<path d="M522.900,385 H601.400" stroke="#111" stroke-width="0.900" stroke-dasharray="1.200,1.200"/>
<path d="M531.400,385 V429" stroke="#111" stroke-width="0.800" stroke-dasharray="2.200,1.600"/><path d="M529.500,428.500 L531.400,434 L533.300,428.500 Z" fill="#111"/>
<polyline fill="none" stroke="#e2453a" stroke-width="1.300" stroke-linejoin="round" points="379.1,571.4 397.6,559.9 416.1,526.6 453.1,471.1 471.6,434.0"/>
<polyline fill="none" stroke="#1a1ac8" stroke-width="1.600" stroke-linejoin="round" points="379.1,571.4 397.6,561.6 416.1,550.7 453.1,526.7 490.1,500.4 527.1,461.4 564.1,434.0 601.1,385.0"/>
<text x="533.300" y="411.500" font-size="11.700" fill="#222" text-anchor="middle">-35.7%</text>
<circle cx="393.3" cy="393.4" r="3.9" fill="none" stroke="#333" stroke-width="1.050"/><text x="393.3" y="395.8" font-size="6.6" fill="#333" text-anchor="middle">1</text>
<circle cx="393.3" cy="407.5" r="3.9" fill="none" stroke="#333" stroke-width="1.050"/><text x="393.3" y="409.9" font-size="6.6" fill="#333" text-anchor="middle">2</text>
<text x="398.400" y="396.600" font-size="9" fill="#333">Preheating stage</text><text x="398.400" y="410.700" font-size="9" fill="#333">Pyrolysis-reforming stage</text>
<circle cx="391.2" cy="546.5" r="4.7" fill="none" stroke="#e2452c" stroke-width="1.050"/><text x="391.2" y="549.2" font-size="7.6" fill="#e2452c" text-anchor="middle">1</text>
<circle cx="445.3" cy="506.5" r="4.7" fill="none" stroke="#e2452c" stroke-width="1.050"/><text x="445.3" y="509.2" font-size="7.6" fill="#e2452c" text-anchor="middle">2</text>
<circle cx="500" cy="520.4" r="4.7" fill="none" stroke="#2424cc" stroke-width="1.050"/><text x="500" y="523.1" font-size="7.6" fill="#2424cc" text-anchor="middle">1</text>
<circle cx="564.1" cy="461.2" r="4.7" fill="none" stroke="#2424cc" stroke-width="1.050"/><text x="564.1" y="463.9" font-size="7.6" fill="#2424cc" text-anchor="middle">2</text>
<path d="M570,539.800 H593.200" stroke="#1a1ac8" stroke-width="1.600"/><path d="M570,552.100 H593.200" stroke="#e2453a" stroke-width="1.300"/>
<text x="595.800" y="543.100" font-size="9.900" fill="#222">CH</text><text x="595.800" y="555.500" font-size="9.900" fill="#222">IH</text>
</svg></body></html>
